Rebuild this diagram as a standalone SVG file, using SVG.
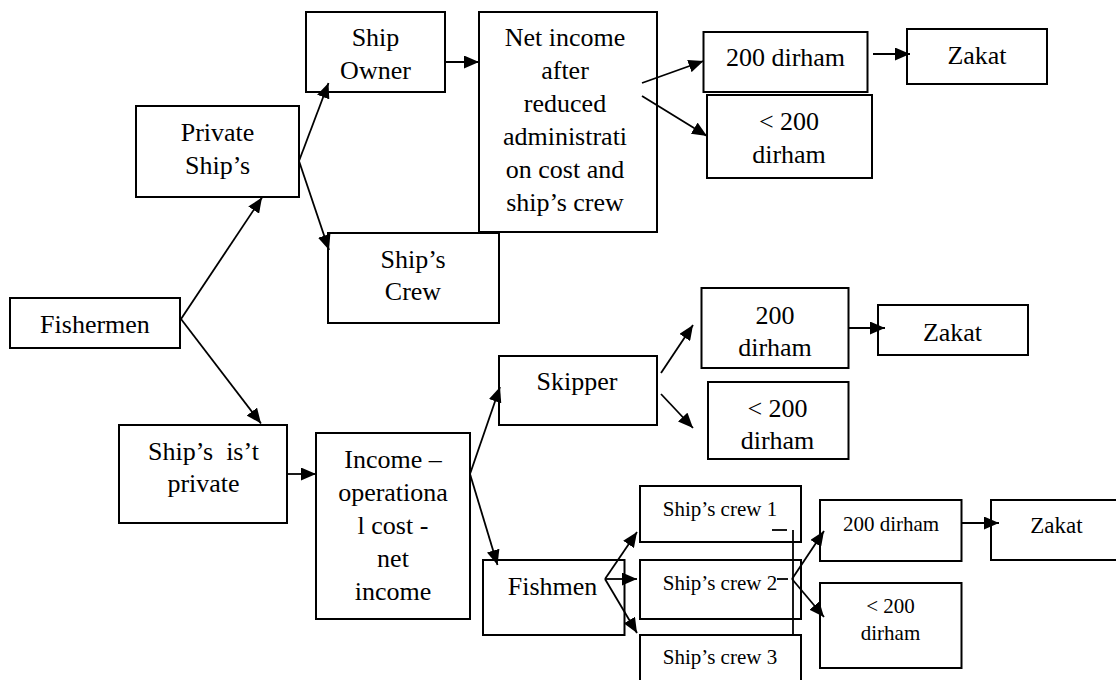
<svg xmlns="http://www.w3.org/2000/svg" width="1116" height="680" viewBox="0 0 1116 680">
  <style>
    .box { fill: #ffffff; stroke: #000000; stroke-width: 2; }
    .t { font-family: "Liberation Serif", "Times New Roman", serif; font-size: 26px; fill: #000000; text-anchor: middle; }
    .s { font-size: 21px; }
    .z { font-size: 23px; }
    .ln { fill: none; stroke: #000000; stroke-width: 1.8; }
    .arr { marker-end: url(#head); }
  </style>
  <defs>
    <marker id="head" markerUnits="userSpaceOnUse" markerWidth="16" markerHeight="13" refX="15" refY="6.5" orient="auto">
      <path d="M0,0 L15,6.5 L0,13 z" fill="#000000"/>
    </marker>
  </defs>
  <rect width="1116" height="680" fill="#ffffff"/>

  <!-- nodes -->
  <g id="fishermen">
    <rect class="box" x="10" y="298" width="170" height="50"/>
    <text class="t" x="95" y="333">Fishermen</text>
  </g>
  <g id="private-ships">
    <rect class="box" x="136" y="106" width="163" height="91"/>
    <text class="t" x="217.5" y="141">Private</text>
    <text class="t" x="217.5" y="174">Ship’s</text>
  </g>
  <g id="ship-owner">
    <rect class="box" x="306" y="12" width="139" height="80"/>
    <text class="t" x="375.5" y="46">Ship</text>
    <text class="t" x="375.5" y="79">Owner</text>
  </g>
  <g id="net-income">
    <rect class="box" x="479" y="12" width="178" height="220"/>
    <text class="t" x="565" y="46">Net income</text>
    <text class="t" x="565" y="79">after</text>
    <text class="t" x="565" y="112">reduced</text>
    <text class="t" x="565" y="145">administrati</text>
    <text class="t" x="565" y="178">on cost and</text>
    <text class="t" x="565" y="211">ship’s crew</text>
  </g>
  <g id="ships-crew">
    <rect class="box" x="328" y="233" width="171" height="90"/>
    <text class="t" x="413" y="268">Ship’s</text>
    <text class="t" x="413" y="300">Crew</text>
  </g>
  <g id="owner-200">
    <rect class="box" x="703.5" y="32" width="164" height="60"/>
    <text class="t" x="785.5" y="66">200 dirham</text>
  </g>
  <g id="owner-zakat">
    <rect class="box" x="907" y="29" width="140" height="55"/>
    <text class="t" x="977" y="64">Zakat</text>
  </g>
  <g id="owner-less-200">
    <rect class="box" x="707" y="95" width="165" height="83"/>
    <text class="t" x="789" y="130">&lt; 200</text>
    <text class="t" x="789" y="163">dirham</text>
  </g>
  <g id="not-private">
    <rect class="box" x="119" y="425" width="168" height="98"/>
    <text class="t" x="203.5" y="460" xml:space="preserve">Ship’s  is’t</text>
    <text class="t" x="203.5" y="492">private</text>
  </g>
  <g id="income">
    <rect class="box" x="316" y="433" width="154" height="186"/>
    <text class="t" x="393" y="468">Income –</text>
    <text class="t" x="393" y="501">operationa</text>
    <text class="t" x="393" y="534">l cost -</text>
    <text class="t" x="393" y="567">net</text>
    <text class="t" x="393" y="600">income</text>
  </g>
  <g id="skipper">
    <rect class="box" x="499" y="356" width="158" height="69"/>
    <text class="t" x="577" y="390">Skipper</text>
  </g>
  <g id="fishmen">
    <rect class="box" x="483" y="560" width="141.5" height="75"/>
    <text class="t" x="552.5" y="595">Fishmen</text>
  </g>
  <g id="skipper-200">
    <rect class="box" x="701.5" y="288" width="147" height="80"/>
    <text class="t" x="775" y="324">200</text>
    <text class="t" x="775" y="356">dirham</text>
  </g>
  <g id="skipper-zakat">
    <rect class="box" x="878" y="305" width="150" height="50"/>
    <text class="t" x="952.5" y="341">Zakat</text>
  </g>
  <g id="skipper-less-200">
    <rect class="box" x="708" y="382" width="140.5" height="77"/>
    <text class="t" x="777.5" y="417">&lt; 200</text>
    <text class="t" x="777.5" y="449">dirham</text>
  </g>
  <g id="crew-1">
    <rect class="box" x="640" y="486" width="161" height="56"/>
    <text class="t s" x="720" y="516">Ship’s crew 1</text>
  </g>
  <g id="crew-2">
    <rect class="box" x="640" y="560" width="161" height="59"/>
    <text class="t s" x="720" y="590">Ship’s crew 2</text>
  </g>
  <g id="crew-3">
    <rect class="box" x="640" y="635" width="161" height="70"/>
    <text class="t s" x="720" y="664">Ship’s crew 3</text>
  </g>
  <g id="crew-200">
    <rect class="box" x="820" y="500" width="141.5" height="61"/>
    <text class="t s" x="891" y="531">200 dirham</text>
  </g>
  <g id="crew-zakat">
    <rect class="box" x="991" y="500" width="150" height="60"/>
    <text class="t z" x="1056.5" y="533">Zakat</text>
  </g>
  <g id="crew-less-200">
    <rect class="box" x="820" y="583" width="141.5" height="85"/>
    <text class="t s" x="890.5" y="613">&lt; 200</text>
    <text class="t s" x="890.5" y="640">dirham</text>
  </g>

  <!-- connectors -->
  <g id="connectors">
    <path class="ln arr" d="M181,319 L262,197.5"/>
    <path class="ln arr" d="M181,319 L261,423.5"/>
    <path class="ln arr" d="M299,161 L328.5,83"/>
    <path class="ln arr" d="M299,161 L329,250"/>
    <path class="ln arr" d="M445,62 L479,62"/>
    <path class="ln arr" d="M642,83 L703.5,61"/>
    <path class="ln arr" d="M642,96 L707,136"/>
    <path class="ln arr" d="M873,54 L910,54"/>
    <path class="ln arr" d="M288,474 L316,474"/>
    <path class="ln arr" d="M470,474 L500,387"/>
    <path class="ln arr" d="M470,474 L497.5,565"/>
    <path class="ln arr" d="M661,373 L693,325"/>
    <path class="ln arr" d="M661,394 L693,428"/>
    <path class="ln arr" d="M849,328 L885,328"/>
    <path class="ln arr" d="M605,579 L637,532"/>
    <path class="ln arr" d="M605,579 L637,579"/>
    <path class="ln arr" d="M605,579 L637,633"/>
    <path class="ln" d="M793,530 L793,635"/>
    <path class="ln" d="M772,530 L787,530"/>
    <path class="ln" d="M777,579 L788,579"/>
    <path class="ln arr" d="M792,579 L824,531"/>
    <path class="ln arr" d="M792,579 L824,617"/>
    <path class="ln arr" d="M962,523 L999,523"/>
  </g>
</svg>
